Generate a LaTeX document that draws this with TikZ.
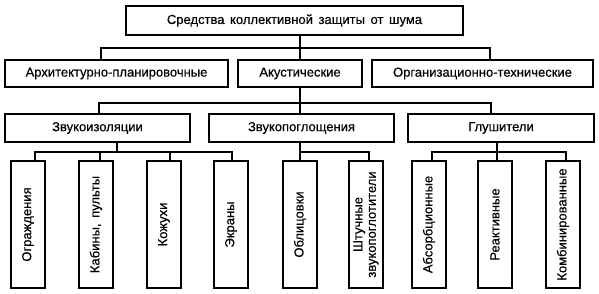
\documentclass[tikz,border=0pt]{standalone}
\usepackage{fontspec}
\setmainfont{Liberation Sans}[FakeBold=0.4]
\newcommand{\wsp}{\ \hspace{2pt}}
\begin{document}
\begin{tikzpicture}[x=1pt,y=-1pt,
  box/.style={draw,line width=1.3pt,inner sep=0pt,minimum height=28pt,font=\fontsize{13}{15}\selectfont},
  vbox/.style={draw,line width=1.3pt,inner sep=0pt,minimum width=34pt,minimum height=127pt},
  vtext/.style={rotate=90,font=\fontsize{13}{13.5}\selectfont,align=center},
  conn/.style={line width=1.2pt}]
\useasboundingbox (0,0) rectangle (599,294);
% top
\node[box,minimum width=337pt,minimum height=29pt] (top) at (294.5,20.5) {Средства\wsp коллективной\wsp защиты\wsp от\wsp шума};
% row 2
\node[box,minimum width=223pt,minimum height=27pt] (A) at (116.5,73.5) {Архитектурно-планировочные};
\node[box,minimum width=124pt,minimum height=27pt] (B) at (300,73.5) {Акустические};
\node[box,minimum width=221pt,minimum height=27pt] (C) at (482.5,73.5) {Организационно-технические};
% row 3
\node[box,minimum width=185pt] (D) at (97.5,128) {Звукоизоляции};
\node[box,minimum width=185pt] (E) at (301.5,128) {Звукопоглощения};
\node[box,minimum width=186pt] (F) at (501,128) {Глушители};
% row 4
\node[vbox] (g1) at (28,224.5) {};
\node[vbox] (g2) at (96,224.5) {};
\node[vbox] (g3) at (164,224.5) {};
\node[vbox] (g4) at (231,224.5) {};
\node[vbox] (g5) at (300,224.5) {};
\node[vbox] (g6) at (366,224.5) {};
\node[vbox] (g7) at (429,224.5) {};
\node[vbox] (g8) at (495,224.5) {};
\node[vbox] (g9) at (563,224.5) {};
\node[vtext] (t1) at (g1) {Ограждения};
\node[vtext] (t2) at (g2) {Кабины,\wsp пульты};
\node[vtext] (t3) at (g3) {Кожухи};
\node[vtext] (t4) at (g4) {Экраны};
\node[vtext] (t5) at (g5) {Облицовки};
\node[vtext] (t6) at (g6) {Штучные\\звукопоглотители};
\node[vtext] (t7) at (g7) {Абсорбционные};
\node[vtext] (t8) at (g8) {Реактивные};
\node[vtext] (t9) at (g9) {Комбинированные};
% junction coordinates
\coordinate (j1) at (300,48);
\coordinate (xa) at (101,0);
\coordinate (xc) at (490,0);
\coordinate (j2) at (300,103);
\coordinate (xd) at (99,0);
\coordinate (xf) at (491,0);
\coordinate (j3) at (117,152);
\coordinate (x1) at (35,0);
\coordinate (x2) at (100,0);
\coordinate (x3) at (170,0);
\coordinate (x4) at (232,0);
\coordinate (j4) at (300,152);
\coordinate (x6) at (369,0);
\coordinate (j5) at (497,152);
\coordinate (x7) at (432,0);
\coordinate (x8) at (497,0);
\coordinate (x9) at (566,0);
% connectors level 1
\draw[conn] (top.south -| j1) -- (B.north);
\draw[conn] (A.north -| xa) |- (j1) -| (C.north -| xc);
% level 2
\draw[conn] (B.south) -- (E.north -| B.south);
\draw[conn] (D.north -| xd) |- (j2) -| (F.north -| xf);
% level 3 D
\draw[conn] (D.south -| j3) -- (j3);
\draw[conn] (g1.north -| x1) |- (j3) -| (g4.north -| x4);
\draw[conn] (j3 -| x2) -- (g2.north -| x2);
\draw[conn] (j3 -| x3) -- (g3.north -| x3);
% level 3 E
\draw[conn] (E.south -| j4) -- (g5.north -| j4);
\draw[conn] (j4) -| (g6.north -| x6);
% level 3 F
\draw[conn] (F.south -| j5) -- (g8.north -| x8);
\draw[conn] (g7.north -| x7) |- (j5) -| (g9.north -| x9);
\end{tikzpicture}
\end{document}
